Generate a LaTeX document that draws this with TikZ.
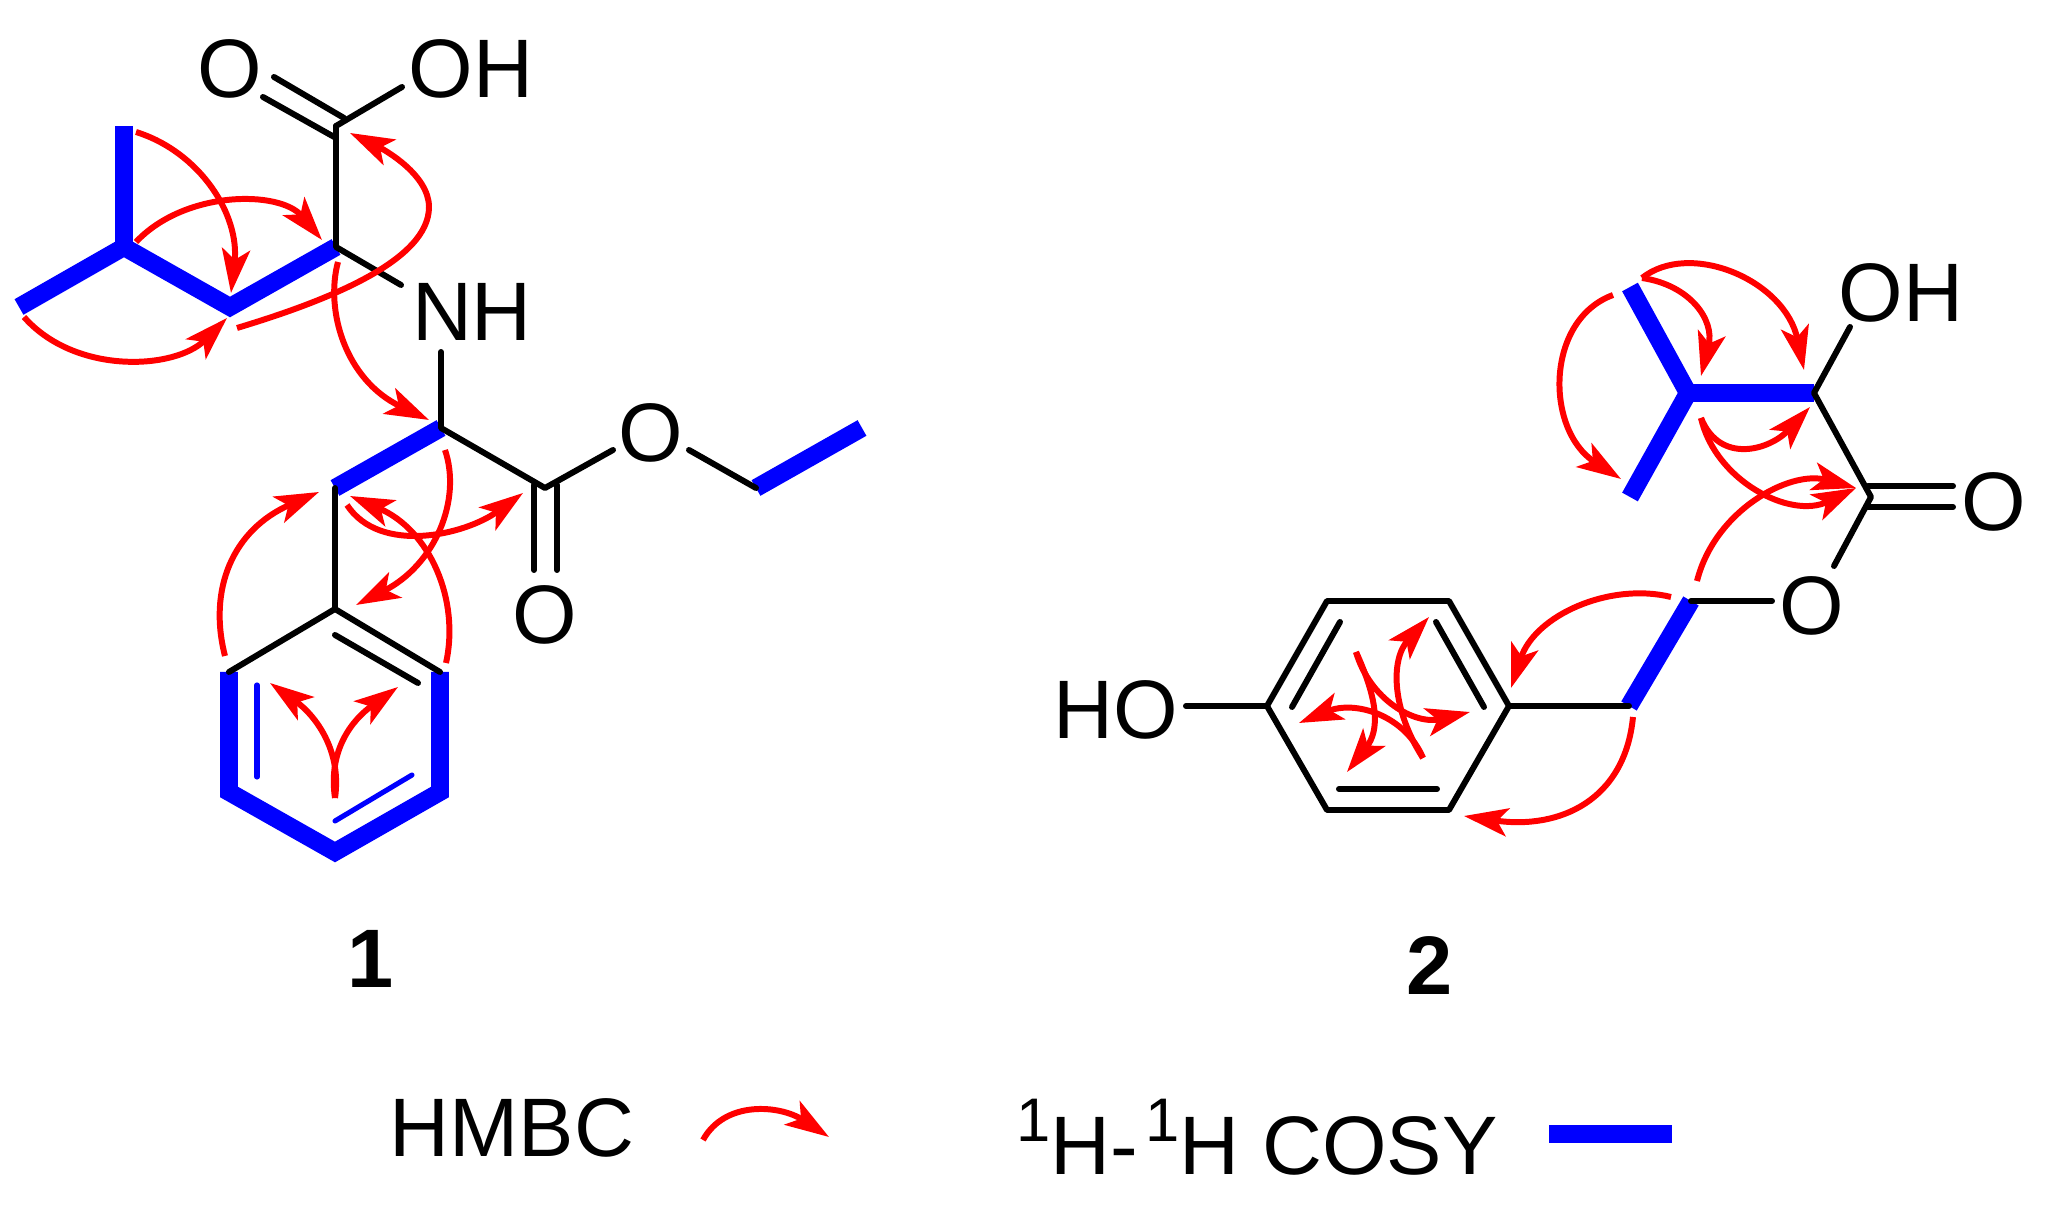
\documentclass[tikz,border=0pt]{standalone}
\usepackage{fontspec}
\setmainfont{Liberation Sans}
\usetikzlibrary{arrows.meta}
\definecolor{cosyblue}{RGB}{0,0,255}
\definecolor{hmbcred}{RGB}{255,0,0}
\tikzset{
    bond/.style={draw=black, line width=1.7pt, line cap=round, line join=round},
    cosy/.style={draw=cosyblue, line width=5.1pt, line cap=butt, line join=miter, miter limit=10},
    cosyinner/.style={draw=cosyblue, line width=1.45pt, line cap=round},
    hmbc/.style={draw=hmbcred, line width=1.7pt, -{Stealth[length=12.5pt, width=8pt, inset=3pt]}},
    atom/.style={font=\fontsize{23.6}{28}\selectfont, inner sep=0pt, anchor=base},
    number/.style={font=\fontsize{23.6}{28}\selectfont\bfseries, inner sep=0pt, anchor=base}
}

\begin{document}
\begin{tikzpicture}[x=0.01cm, y=-0.01cm]
    \useasboundingbox (0,0) rectangle (2047,1213);

    % compound 1, atoms
    \coordinate (meTop) at (124,126);
    \coordinate (meLeft) at (19,307);
    \coordinate (ibu) at (124,247);
    \coordinate (ibuCH) at (230,307);
    \coordinate (leuA) at (336,247);
    \coordinate (cooh) at (336,126);
    \coordinate (pheA) at (441,428);
    \coordinate (pheB) at (335,488);
    \coordinate (ester) at (545,488);
    \coordinate (etA) at (756,488);
    \coordinate (etB) at (862,428);
    \coordinate (ph1) at (335,609);
    \coordinate (ph2) at (440,672);
    \coordinate (ph3) at (440,792);
    \coordinate (ph4) at (335,852);
    \coordinate (ph5) at (229,792);
    \coordinate (ph6) at (229,672);
    % compound 1, bond ends next to the labels and inner bonds
    \coordinate (dbA1) at (274,77);
    \coordinate (dbA2) at (344,118);
    \coordinate (dbB1) at (263,97);
    \coordinate (dbB2) at (336,138);
    \coordinate (ohEnd) at (402,87);
    \coordinate (nhEndA) at (401,285);
    \coordinate (nhEndB) at (441,352);
    \coordinate (oEndA) at (613,450);
    \coordinate (oEndB) at (689,450);
    \coordinate (coA1) at (534,485);
    \coordinate (coA2) at (534,570);
    \coordinate (coB1) at (557,485);
    \coordinate (coB2) at (557,570);
    \coordinate (inA1) at (335,635);
    \coordinate (inA2) at (418,683);
    \coordinate (inB1) at (257,685);
    \coordinate (inB2) at (257,777);
    \coordinate (inC1) at (335,821);
    \coordinate (inC2) at (412,775);

    \draw[cosy] (meLeft) -- (ibu) -- (ibuCH) -- (leuA);
    \draw[cosy] (meTop) -- (ibu);
    \draw[cosy] (pheA) -- (pheB);
    \draw[cosy] (etA) -- (etB);
    \draw[cosy] (ph6) -- (ph5) -- (ph4) -- (ph3) -- (ph2);
    \draw[cosyinner] (inB1) -- (inB2);
    \draw[cosyinner] (inC1) -- (inC2);

    \draw[bond] (cooh) -- (leuA) -- (nhEndA);
    \draw[bond] (dbA1) -- (dbA2);
    \draw[bond] (dbB1) -- (dbB2);
    \draw[bond] (cooh) -- (ohEnd);
    \draw[bond] (nhEndB) -- (pheA) -- (ester) -- (oEndA);
    \draw[bond] (oEndB) -- (etA);
    \draw[bond] (coA1) -- (coA2);
    \draw[bond] (coB1) -- (coB2);
    \draw[bond] (pheB) -- (ph1);
    \draw[bond] (ph6) -- (ph1) -- (ph2);
    \draw[bond] (inA1) -- (inA2);

    \node[atom] (oAcid) at (230,98) {O};
    \node[atom] (ohAcid) at (471,98) {OH};
    \node[atom] (nh) at (472,341) {NH};
    \node[atom] (oEster) at (651,462) {O};
    \node[atom] (oKeto) at (545,644) {O};
    \node[number] (one) at (371,988) {1};

    % compound 1, HMBC
    \coordinate (a1s) at (136,132);
    \coordinate (a1e) at (231,293);
    \coordinate (a2s) at (136,242);
    \coordinate (a2e) at (322,240);
    \coordinate (a3s) at (24,317);
    \coordinate (a3e) at (227,318);
    \coordinate (a4s) at (237,328);
    \coordinate (a4m) at (429,207);
    \coordinate (a4e) at (350,133);
    \coordinate (a5s) at (338,262);
    \coordinate (a5e) at (429,420);
    \coordinate (a6s) at (225,656);
    \coordinate (a6e) at (319,492);
    \coordinate (a7s) at (446,663);
    \coordinate (a7e) at (350,496);
    \coordinate (a8s) at (445,450);
    \coordinate (a8e) at (356,605);
    \coordinate (a9s) at (347,505);
    \coordinate (a9e) at (523,493);
    \coordinate (a10s) at (335,798);
    \coordinate (a10e) at (270,683);
    \coordinate (a11e) at (398,687);
    \draw[hmbc] (a1s) .. controls (200,152) and (240,215) .. (a1e);
    \draw[hmbc] (a2s) .. controls (185,190) and (280,190) .. (a2e);
    \draw[hmbc] (a3s) .. controls (75,375) and (175,370) .. (a3e);
    \draw[hmbc] (a4s) .. controls (330,300) and (429,260) .. (a4m) .. controls (429,175) and (385,150) .. (a4e);
    \draw[hmbc] (a5s) .. controls (325,310) and (345,380) .. (a5e);
    \draw[hmbc] (a6s) .. controls (208,590) and (232,530) .. (a6e);
    \draw[hmbc] (a7s) .. controls (460,600) and (430,530) .. (a7e);
    \draw[hmbc] (a8s) .. controls (462,500) and (435,565) .. (a8e);
    \draw[hmbc] (a9s) .. controls (380,555) and (465,535) .. (a9e);
    \draw[hmbc] (a10s) .. controls (342,750) and (315,715) .. (a10e);
    \draw[hmbc] (a10s) .. controls (328,750) and (352,720) .. (a11e);

    % compound 2, atoms
    \coordinate (meUp) at (1630,287);
    \coordinate (meDown) at (1630,497);
    \coordinate (vCH) at (1688,393);
    \coordinate (cOH) at (1814,393);
    \coordinate (lactone) at (1871,497);
    \coordinate (oCH) at (1691,601);
    \coordinate (benzyl) at (1629,706);
    \coordinate (r1) at (1267,706);
    \coordinate (r2) at (1327,601);
    \coordinate (r3) at (1449,601);
    \coordinate (r4) at (1509,706);
    \coordinate (r5) at (1449,810);
    \coordinate (r6) at (1327,810);
    % compound 2, bond ends next to the labels and inner bonds
    \coordinate (ohEndB) at (1850,327);
    \coordinate (oEndC) at (1834,566);
    \coordinate (oEndD) at (1772,601);
    \coordinate (coC1) at (1868,486);
    \coordinate (coC2) at (1953,486);
    \coordinate (coD1) at (1868,507);
    \coordinate (coD2) at (1953,507);
    \coordinate (hoEnd) at (1186,706);
    \coordinate (inD1) at (1340,622);
    \coordinate (inD2) at (1292,707);
    \coordinate (inE1) at (1436,622);
    \coordinate (inE2) at (1484,707);
    \coordinate (inF1) at (1339,789);
    \coordinate (inF2) at (1437,789);

    \draw[cosy] (meUp) -- (vCH) -- (meDown);
    \draw[cosy] (vCH) -- (cOH);
    \draw[cosy] (oCH) -- (benzyl);

    \draw[bond] (ohEndB) -- (cOH) -- (lactone) -- (oEndC);
    \draw[bond] (coC1) -- (coC2);
    \draw[bond] (coD1) -- (coD2);
    \draw[bond] (oCH) -- (oEndD);
    \draw[bond] (hoEnd) -- (r1);
    \draw[bond] (r1) -- (r2) -- (r3) -- (r4) -- (r5) -- (r6) -- cycle;
    \draw[bond] (r4) -- (benzyl);
    \draw[bond] (inD1) -- (inD2);
    \draw[bond] (inE1) -- (inE2);
    \draw[bond] (inF1) -- (inF2);

    \node[atom] (ohAlc) at (1901,322) {OH};
    \node[atom] (oLac) at (1994,531) {O};
    \node[atom] (oRing) at (1812,635) {O};
    \node[atom] (hoPh) at (1116,739) {HO};
    \node[number] (two) at (1430,995) {2};

    % compound 2, HMBC
    \coordinate (b1s) at (1613,295);
    \coordinate (b1e) at (1621,479);
    \coordinate (b2s) at (1642,278);
    \coordinate (b2e) at (1701,376);
    \coordinate (b3e) at (1804,370);
    \coordinate (b4s) at (1701,418);
    \coordinate (b4e) at (1810,407);
    \coordinate (b5e) at (1856,488);
    \coordinate (b6s) at (1697,581);
    \coordinate (b7s) at (1671,597);
    \coordinate (b7e) at (1511,688);
    \coordinate (b8s) at (1633,717);
    \coordinate (b8e) at (1464,816);
    \coordinate (b9s) at (1356,652);
    \coordinate (b9e) at (1347,772);
    \coordinate (b10e) at (1470,712);
    \coordinate (b11s) at (1423,758);
    \coordinate (b11e) at (1429,617);
    \coordinate (b12e) at (1299,723);
    \draw[hmbc] (b1s) .. controls (1545,320) and (1545,430) .. (b1e);
    \draw[hmbc] (b2s) .. controls (1690,285) and (1715,320) .. (b2e);
    \draw[hmbc] (b2s) .. controls (1690,240) and (1785,280) .. (b3e);
    \draw[hmbc] (b4s) .. controls (1720,465) and (1770,450) .. (b4e);
    \draw[hmbc] (b4s) .. controls (1715,480) and (1790,520) .. (b5e);
    \draw[hmbc] (b6s) .. controls (1715,510) and (1790,470) .. (b5e);
    \draw[hmbc] (b7s) .. controls (1610,582) and (1535,615) .. (b7e);
    \draw[hmbc] (b8s) .. controls (1625,800) and (1560,830) .. (b8e);
    \draw[hmbc] (b9s) .. controls (1378,700) and (1380,730) .. (b9e);
    \draw[hmbc] (b9s) .. controls (1370,700) and (1415,725) .. (b10e);
    \draw[hmbc] (b11s) .. controls (1392,710) and (1390,660) .. (b11e);
    \draw[hmbc] (b11s) .. controls (1405,715) and (1355,700) .. (b12e);

    % legend
    \node[atom] (hmbcText) at (512,1157) {HMBC};
    \coordinate (keyS) at (703,1140);
    \coordinate (keyE) at (829,1137);
    \draw[hmbc] (keyS) .. controls (725,1100) and (780,1105) .. (keyE);
    \node[atom] (cosyText) at (1257,1175) {\raisebox{9.4pt}{\fontsize{17.5}{20}\selectfont 1}H-\kern2pt\raisebox{9.4pt}{\fontsize{17.5}{20}\selectfont 1}H COSY};
    \coordinate (keyA) at (1549,1134);
    \coordinate (keyB) at (1672,1134);
    \draw[cosy] (keyA) -- (keyB);
\end{tikzpicture}
\end{document}
